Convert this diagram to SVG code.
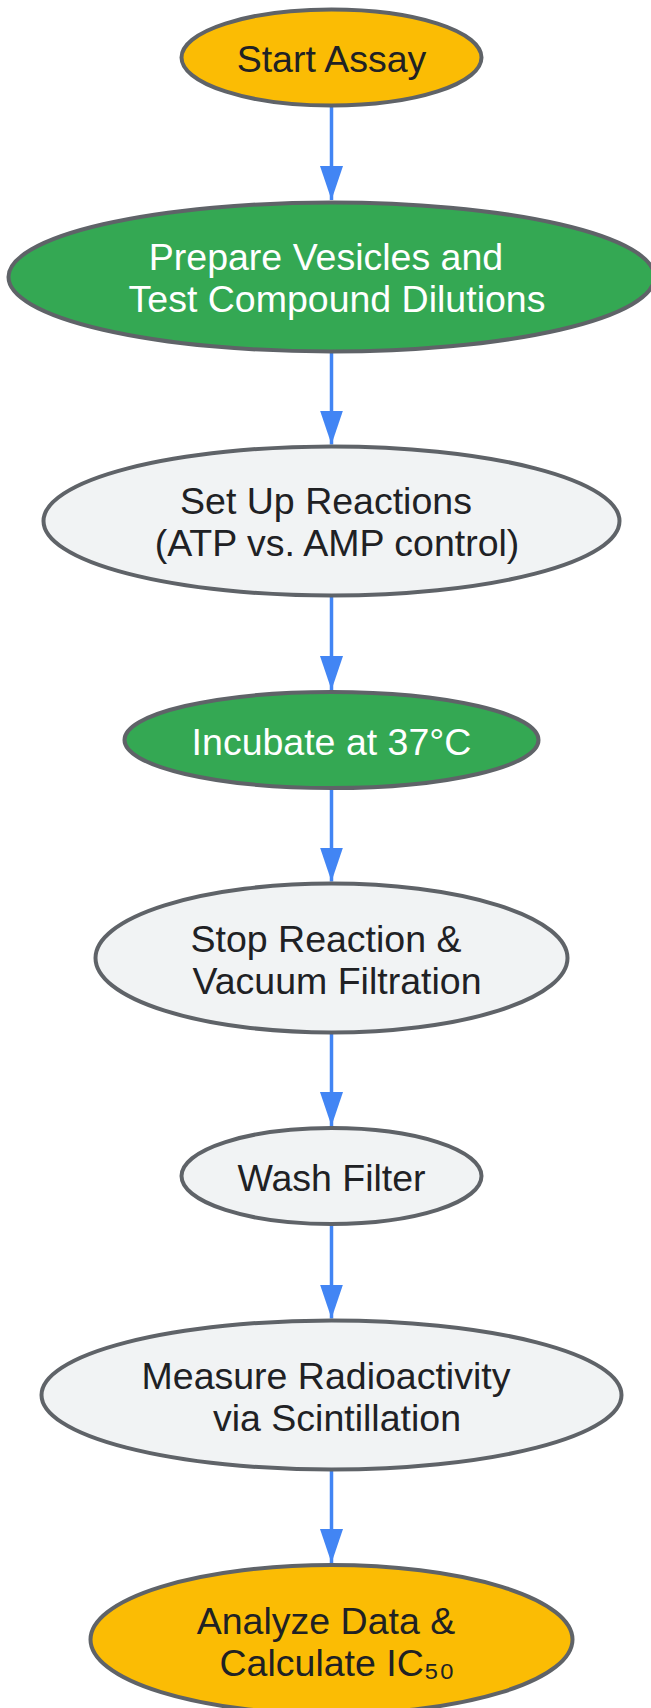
<svg xmlns="http://www.w3.org/2000/svg" width="651" height="1708" viewBox="0 0 651 1708">
<defs>
<marker id="ah" markerUnits="userSpaceOnUse" markerWidth="34" markerHeight="24" refX="34" refY="12" orient="auto" viewBox="0 0 34 24">
<path d="M0,0.5 L34,12 L0,23.5 z" fill="#4285F4"/>
</marker>
</defs>
<style>
.n{stroke:#5F6368;stroke-width:4}
.y{fill:#FBBC04}.g{fill:#34A853}.w{fill:#F1F3F4}
.t{font-family:"Liberation Sans",Arial,sans-serif;font-size:37.5px;text-anchor:middle;fill:#202124}
.tw{fill:#FFFFFF}
.e{stroke:#4285F4;stroke-width:3.5;fill:none;marker-end:url(#ah)}
</style>
<rect width="651" height="1708" fill="#FFFFFF"/>
<g id="connectors">
<line class="e" x1="331.5" y1="107" x2="331.5" y2="200"/>
<line class="e" x1="331.5" y1="352" x2="331.5" y2="444.5"/>
<line class="e" x1="331.5" y1="597" x2="331.5" y2="690"/>
<line class="e" x1="331.5" y1="789.5" x2="331.5" y2="881.5"/>
<line class="e" x1="331.5" y1="1034" x2="331.5" y2="1126"/>
<line class="e" x1="331.5" y1="1225.5" x2="331.5" y2="1318.5"/>
<line class="e" x1="331.5" y1="1471" x2="331.5" y2="1563"/>
</g>
<g id="start">
<ellipse class="n y" cx="331.5" cy="57.5" rx="150" ry="48"/>
<text class="t" x="331.5" y="72">Start Assay</text>
</g>
<g id="prepare">
<ellipse class="n g" cx="331.5" cy="277" rx="323" ry="74.5"/>
<text class="t tw" x="326" y="270">Prepare Vesicles and</text>
<text class="t tw" x="337" y="312">Test Compound Dilutions</text>
</g>
<g id="setup">
<ellipse class="n w" cx="331.5" cy="521" rx="288" ry="74.5"/>
<text class="t" x="326" y="514">Set Up Reactions</text>
<text class="t" x="337" y="556">(ATP vs. AMP control)</text>
</g>
<g id="incubate">
<ellipse class="n g" cx="331.5" cy="740" rx="207" ry="48"/>
<text class="t tw" x="331.5" y="754.5">Incubate at 37°C</text>
</g>
<g id="stop">
<ellipse class="n w" cx="331.5" cy="958" rx="236" ry="74.5"/>
<text class="t" x="326" y="951.5">Stop Reaction &amp;</text>
<text class="t" x="337" y="993.5">Vacuum Filtration</text>
</g>
<g id="wash">
<ellipse class="n w" cx="331.5" cy="1176" rx="150" ry="48"/>
<text class="t" x="331.5" y="1190.5">Wash Filter</text>
</g>
<g id="measure">
<ellipse class="n w" cx="331.5" cy="1395" rx="290" ry="74.5"/>
<text class="t" x="326" y="1389">Measure Radioactivity</text>
<text class="t" x="337" y="1431">via Scintillation</text>
</g>
<g id="analyze">
<ellipse class="n y" cx="331.5" cy="1639.5" rx="241" ry="74.5"/>
<text class="t" x="326" y="1633.5">Analyze Data &amp;</text>
<text class="t" x="337" y="1675.5">Calculate IC₅₀</text>
</g>
</svg>
